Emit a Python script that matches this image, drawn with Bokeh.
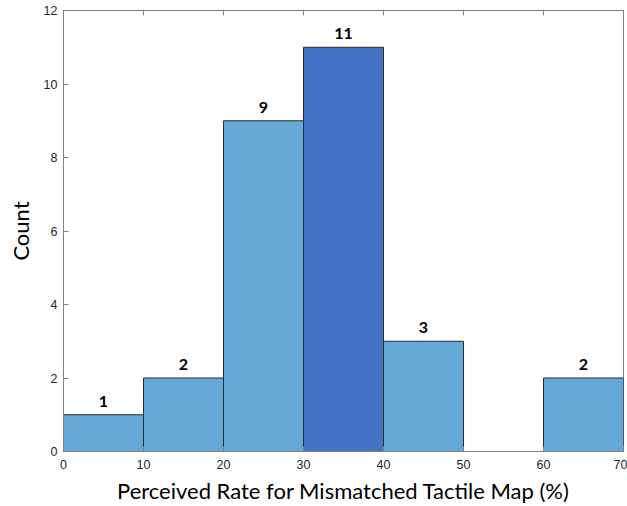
from bokeh.plotting import figure
from bokeh.models import ColumnDataSource, LinearAxis, Range1d, FixedTicker
from bokeh.embed import file_html
from bokeh.resources import INLINE
from bokeh.core.properties import value

# Data
bin_left = [0, 10, 20, 30, 40, 50, 60]
bin_right = [10, 20, 30, 40, 50, 60, 70]
counts = [1, 2, 9, 11, 3, 0, 2]
highlight = [False, False, False, True, False, False, False]
x_ticks = [0, 10, 20, 30, 40, 50, 60, 70]
y_ticks = [0, 2, 4, 6, 8, 10, 12]

LIGHT = "#64A8D7"
DARK = "#4472C4"

src = ColumnDataSource(dict(
    left=bin_left, right=bin_right, top=counts,
    color=[DARK if h else LIGHT for h in highlight],
))
lab = ColumnDataSource(dict(
    x=[(l + r) / 2 for l, r, c in zip(bin_left, bin_right, counts) if c > 0],
    y=[c for c in counts if c > 0],
    t=[str(c) for c in counts if c > 0],
))

p = figure(width=627, height=506, output_backend="svg", toolbar_location=None,
           x_range=Range1d(0, 70), y_range=Range1d(0, 12),
           min_border_left=63, min_border_right=4, min_border_top=10, min_border_bottom=55)

p.quad(left="left", right="right", bottom=0, top="top", fill_color="color",
       line_color="#2b2b2b", line_width=1, source=src)
p.text(x="x", y="y", text="t", source=lab, text_align="center", text_baseline="bottom",
       y_offset=-8, text_font=value("Lato"), text_font_style="bold",
       text_font_size="16px", text_color="#000000")

p.grid.visible = False
p.outline_line_color = "#808080"
p.outline_line_width = 1

tick_color = "#262626"
xb = p.below[0]
yl = p.left[0]
for ax in (xb, yl):
    ax.major_tick_in = 5
    ax.major_tick_out = 0
    ax.minor_tick_line_color = None
    ax.axis_line_color = "#808080"
    ax.major_tick_line_color = "#808080"
    ax.major_label_text_font = "Liberation Sans"
    ax.major_label_text_font_size = "12.5px"
    ax.major_label_text_color = tick_color
    ax.axis_label_text_font = "Lato"
    ax.axis_label_text_font_size = "22px"
    ax.axis_label_text_font_style = "normal"
    ax.axis_label_text_color = "#000000"

xb.ticker = FixedTicker(ticks=x_ticks)
yl.ticker = FixedTicker(ticks=y_ticks)
xb.axis_label = "Perceived Rate for Mismatched Tactile Map (%)"
yl.axis_label = "Count"
xb.major_label_standoff = 8
xb.axis_label_standoff = 5
yl.major_label_standoff = 6
yl.axis_label_standoff = 7

# Matlab-style box ticks on top
top_axis = LinearAxis(ticker=FixedTicker(ticks=x_ticks))
top_axis.major_label_text_font_size = "0px"
top_axis.major_label_text_alpha = 0
top_axis.major_label_standoff = 0
top_axis.major_tick_in = 5
top_axis.major_tick_out = 0
top_axis.minor_tick_line_color = None
top_axis.axis_line_color = "#808080"
top_axis.major_tick_line_color = "#808080"
p.add_layout(top_axis, "above")

open("out.html", "w").write(file_html(p, INLINE))
